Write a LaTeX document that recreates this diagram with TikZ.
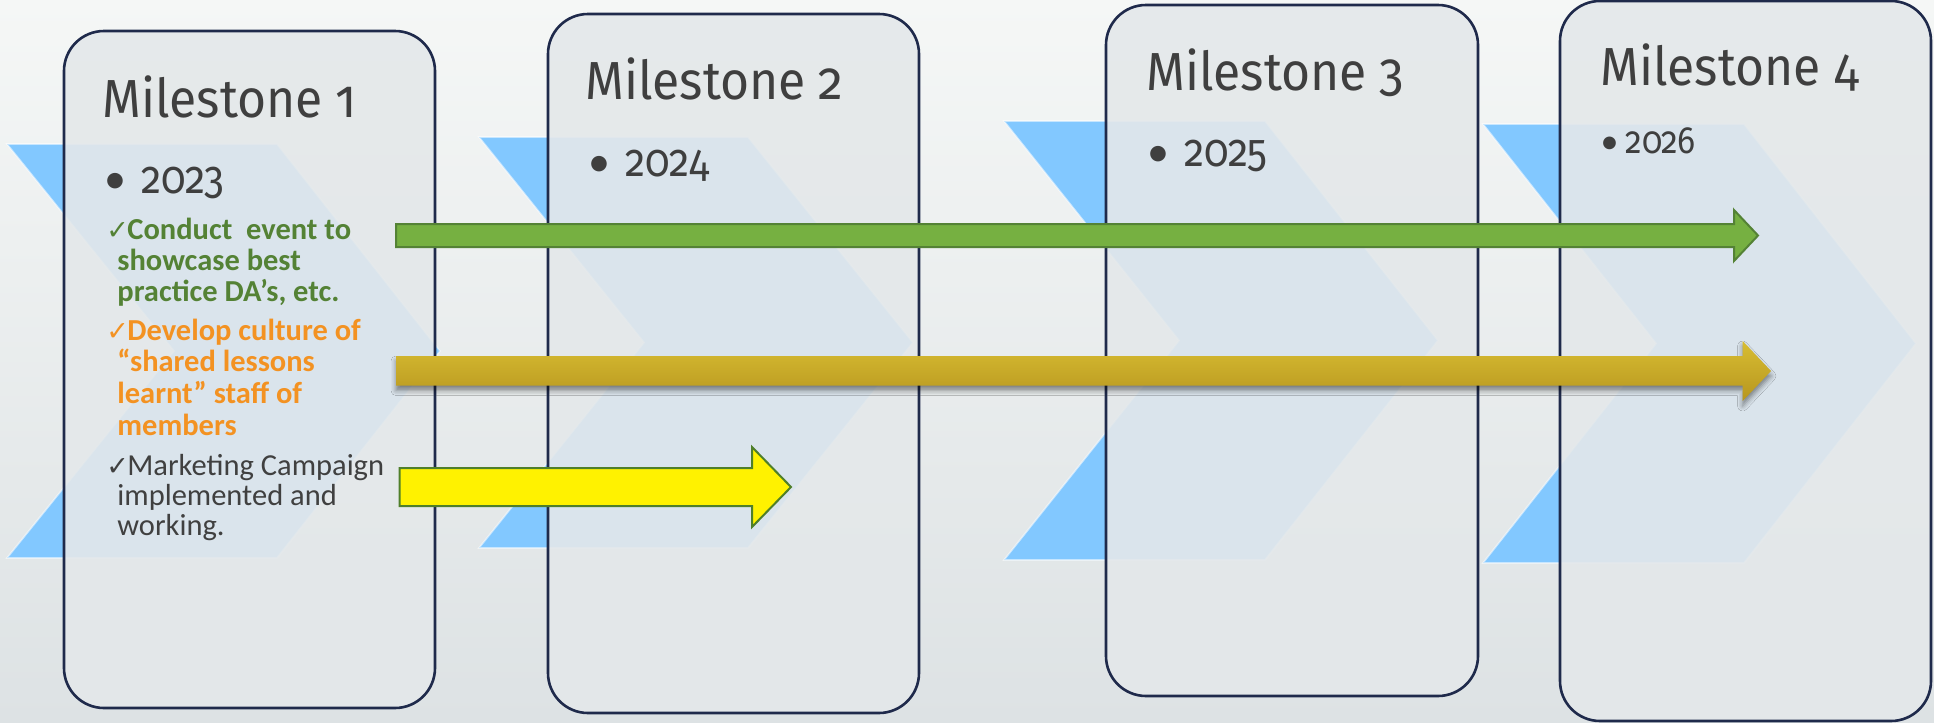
\documentclass[tikz,border=0pt]{standalone}
\usepackage{fontspec}
\setmainfont{Carlito}
\newfontfamily\ttlfont{Fira Sans}[RawFeature={+onum},FakeStretch=0.93]
\newfontfamily\yrfont{Fira Sans}[RawFeature={+onum},FakeStretch=0.88]
\newfontfamily\chkfont{DejaVu Sans}
\usetikzlibrary{shadows.blur}
\definecolor{bgtop}{HTML}{F5F7F6}
\definecolor{bgbot}{HTML}{DDE2E4}
\definecolor{chevblue}{HTML}{82C8FF}
\definecolor{boxfill}{HTML}{E4E8EA}
\definecolor{boxline}{HTML}{1F2A4B}
\definecolor{ttlgrey}{HTML}{3F3F3F}
\definecolor{txtgreen}{HTML}{548235}
\definecolor{txtorange}{HTML}{F39222}
\definecolor{txtgrey}{HTML}{404040}
\definecolor{arrgreen}{HTML}{76B041}
\definecolor{arrgreenline}{HTML}{548235}
\definecolor{goldtop}{HTML}{D8BD32}
\definecolor{goldbot}{HTML}{B7961F}
\definecolor{yelline}{HTML}{4F7F2A}
\newcommand\mychk{\makebox[10.5pt][l]{\chkfont\fontsize{13.5pt}{13.5pt}\selectfont ✓}}
\begin{document}
\begin{tikzpicture}[x=0.5pt,y=-0.5pt,
  chevron/.style={fill=chevblue, draw=white, draw opacity=0.55, line width=0.8pt},
  msbox/.style={fill=boxfill, fill opacity=0.9, draw=boxline, line width=1.3pt, rounded corners=20pt},
  ttl/.style={inner sep=0pt, anchor=base west, text=ttlgrey, font=\ttlfont\fontsize{26.8pt}{28pt}\selectfont},
  yr/.style={inner sep=0pt, text=ttlgrey, font=\yrfont\fontsize{23pt}{25pt}\selectfont},
  yrsmall/.style={inner sep=0pt, text=ttlgrey, font=\yrfont\fontsize{19pt}{21pt}\selectfont},
  bul/.style={inner sep=0pt, anchor=base, text=ttlgrey, font=\fontsize{22pt}{24pt}\selectfont},
  bulsmall/.style={inner sep=0pt, anchor=base, text=ttlgrey, font=\fontsize{18pt}{20pt}\selectfont},
  body/.style={inner sep=0pt, anchor=base west, font=\fontsize{15.25pt}{15.5pt}\selectfont},
  bbody/.style={inner sep=0pt, anchor=base west, font=\fontsize{15.25pt}{15.5pt}\selectfont\bfseries},
  garrow/.style={fill=arrgreen, draw=arrgreenline, line width=1pt, line join=miter},
  goldarrow/.style={top color=goldtop, bottom color=goldbot, draw=none,
     blur shadow={shadow xshift=0pt, shadow yshift=-2.5pt, shadow blur radius=2.5pt, shadow opacity=45}},
  yarrow/.style={fill=yellow, draw=yelline, line width=1pt, line join=miter}
]
\useasboundingbox (0,0) rectangle (1934,723);
% background
\shade[top color=bgtop, bottom color=bgbot] (0,0) rectangle (1934,723);
% chevrons
\draw[chevron] (7,144) -- (277,144) -- (440,351) -- (277,558) -- (7,558) -- (174,351) -- cycle;
\draw[chevron] (479,137) -- (748,137) -- (913,342.5) -- (748,548) -- (479,548) -- (644,342.5) -- cycle;
\draw[chevron] (1004,121) -- (1265,121) -- (1438,340.5) -- (1265,560) -- (1004,560) -- (1179,340.5) -- cycle;
\draw[chevron] (1483,124) -- (1744,124) -- (1916,343.5) -- (1744,563) -- (1483,563) -- (1656,343.5) -- cycle;
% milestone boxes
\draw[msbox] (64,31) rectangle (435,708);
\draw[msbox] (548,14) rectangle (919,713);
\draw[msbox] (1106,5) rectangle (1478,696);
\draw[msbox] (1560,1) rectangle (1931,721);
% titles
\node[ttl] (t1) at (102,117.5) {Milestone 1};
\node[ttl] (t2) at (585,99) {Milestone 2};
\node[ttl] (t3) at (1146,90) {Milestone 3};
\node[ttl] (t4) at (1600,85) {Milestone 4};
% years
\node[bul] (b1) at (115,193.6) {•};
\node[yr, anchor=base west] (y1) at (141,193.6) {2023};
\node[bul] (b2) at (599,176.6) {•};
\node[yr, anchor=base west] (y2) at (625,176.6) {2024};
\node[bul] (b3) at (1158.5,166) {•};
\node[yr, anchor=base west] (y3) at (1184,166) {2025};
\node[bulsmall] (b4) at (1609.6,153.5) {•};
\node[yrsmall, anchor=base west] (y4) at (1625,153.5) {2026};
% milestone 1 items
\node[bbody, text=txtgreen] (g1) at (106,239) {\mychk Conduct\ \ event to};
\node[bbody, text=txtgreen] (g2) at (117,270.7) {showcase best};
\node[bbody, text=txtgreen] (g3) at (117,301.7) {practice DA’s, etc.};
\node[bbody, text=txtorange] (o1) at (106,340) {\mychk Develop culture of};
\node[bbody, text=txtorange] (o2) at (117,371.7) {“shared lessons};
\node[bbody, text=txtorange] (o3) at (117,403) {learnt” staff of};
\node[bbody, text=txtorange] (o4) at (117,435) {members};
\node[body, text=txtgrey] (k1) at (106,475) {\mychk Marketing Campaign};
\node[body, text=txtgrey] (k2) at (117,505) {implemented and};
\node[body, text=txtgrey] (k3) at (117,535) {working.};
% block arrows
\draw[garrow] (396,224) -- (1734,224) -- (1734,210) -- (1758,235.5) -- (1734,261) -- (1734,247) -- (396,247) -- cycle;
\shade[goldarrow] (396,356) -- (1742.6,356) -- (1742.6,341) -- (1771,371) -- (1742.6,401) -- (1742.6,385.5) -- (396,385.5) -- cycle;
\draw[yarrow] (399.5,468) -- (752,468) -- (752,447) -- (791,487) -- (752,527) -- (752,506) -- (399.5,506) -- cycle;
\end{tikzpicture}
\end{document}
